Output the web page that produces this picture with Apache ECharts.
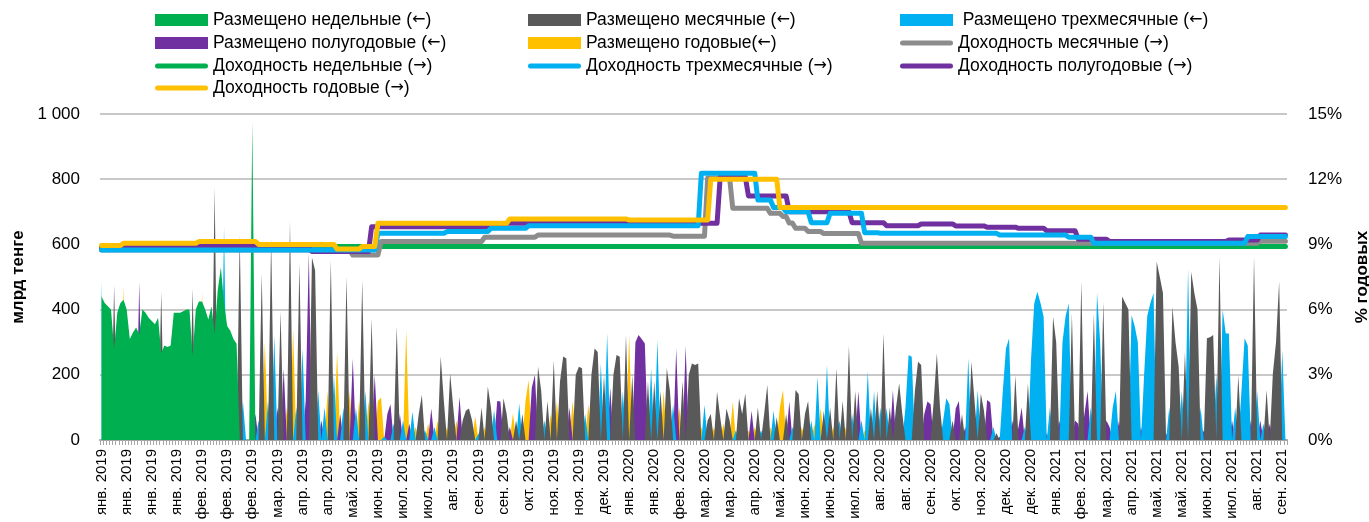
<!DOCTYPE html>
<html>
<head>
<meta charset="utf-8">
<script src="https://cdn.jsdelivr.net/npm/echarts@6/dist/echarts.min.js"></script>
<style>
html, body { margin: 0; padding: 0; background: #fff; }
#chart { width: 1369px; height: 522px; }
</style>
</head>
<body>
<div id="chart"></div>
<script>
// подписи оси X (каждый 8-й аукцион)
const tickLabels = [
    'янв. 2019', 'янв. 2019', 'янв. 2019', 'янв. 2019', 'фев. 2019', 'фев. 2019', 'фев. 2019', 'мар. 2019',
    'апр. 2019', 'апр. 2019', 'май. 2019', 'июн. 2019', 'июл. 2019', 'июл. 2019', 'авг. 2019', 'сен. 2019',
    'сен. 2019', 'окт. 2019', 'ноя. 2019', 'ноя. 2019', 'дек. 2019', 'янв. 2020', 'янв. 2020', 'фев. 2020',
    'мар. 2020', 'мар. 2020', 'апр. 2020', 'май. 2020', 'июн. 2020', 'июн. 2020', 'июл. 2020', 'авг. 2020',
    'авг. 2020', 'сен. 2020', 'окт. 2020', 'ноя. 2020', 'дек. 2020', 'дек. 2020', 'янв. 2021', 'фев. 2021',
    'мар. 2021', 'апр. 2021', 'май. 2021', 'май. 2021', 'июн. 2021', 'июл. 2021', 'авг. 2021', 'сен. 2021'
];
const labelStep = 8;

// недельные ноты, млрд тенге (аукционы 0..48)
const placedWeekly = [
    440, 420, 410, 400, 280, 390, 420, 430, 400, 310,
    330, 345, 325, 400, 390, 375, 365, 355, 375, 266,
    290, 285, 290, 390, 390, 390, 395, 400, 400, 256,
    400, 425, 425, 400, 370, 410, 327, 460, 530, 420,
    350, 335, 310, 295, 0, 0, 0, 0, 976
];

// прочие аукционы: M - месячные, Q - трехмесячные, H - полугодовые, Y - годовые, . - нет
const auctionKind = [
    'Q...M..Y..', '..H......M', '.........M', '..Y...M..Q', '....MQ...H',
    'QMYQMQHMHY', 'MYQMQHHMMQ', 'HQYMQYHQMY', 'HQYMQYMHYY', 'QHHQMHQYHQ',
    'YMMQYHQYMM', 'YMMYHMMMMY', 'QMYMMQHHMM', 'HYMQMYYHHM', 'MQMYMYMMMH',
    'YMMMQYMMMQ', 'MQHMMMQMYM', 'HHHHMQMQMY', 'MMQHYMHMMM', 'MYQMMYMMYM',
    'MYQMMMYHYM', 'QMMYQMYYMH', 'QMMYMMQYQY', 'MQMYMQMYMQ', 'MHQYQMQMQM',
    'QMHMMMQQQM', 'MMHHHMMMQQ', 'QMHHMHQMMQ', 'MMHHQMHQQQ', 'HMHHQMQQQQ',
    'QHQMMHQQQM', 'HHMHHQMQQM', 'HHQQHMMMQQ', 'QHQQQQMMMH', 'QMMMQMQMMM',
    'QHMMMQMQQQ', 'HQMQQQHMQH', 'QMHMMMQ.'
].join('');
// объём размещения на аукционе, млрд тенге
const auctionVolume = [
    490, 0, 0, 0, 475, 0, 0, 475, 0, 0,
    0, 0, 485, 0, 0, 0, 0, 0, 0, 455,
    0, 0, 0, 0, 0, 0, 0, 0, 0, 465,
    0, 0, 455, 0, 0, 0, 775, 0, 0, 654,
    0, 0, 0, 0, 629, 120, 0, 0, 0, 80,
    60, 511, 300, 120, 619, 320, 100, 394, 220, 100,
    670, 340, 100, 542, 280, 120, 575, 560, 520, 150,
    60, 100, 150, 552, 200, 270, 80, 100, 501, 150,
    250, 100, 120, 491, 150, 120, 373, 200, 120, 130,
    10, 80, 110, 50, 348, 80, 60, 337, 50, 87,
    40, 80, 138, 30, 50, 97, 40, 60, 256, 120,
    40, 204, 100, 60, 133, 60, 90, 97, 60, 72,
    20, 100, 40, 164, 100, 92, 120, 118, 128, 80,
    40, 82, 60, 112, 80, 120, 184, 160, 200, 225,
    150, 60, 120, 80, 245, 120, 180, 256, 250, 100,
    120, 200, 225, 220, 80, 110, 200, 281, 270, 235,
    200, 327, 160, 200, 261, 255, 150, 322, 322, 200,
    300, 322, 310, 296, 180, 220, 180, 307, 150, 150,
    220, 150, 110, 281, 100, 180, 289, 200, 235, 230,
    235, 40, 107, 60, 80, 40, 148, 70, 50, 97,
    60, 118, 30, 128, 80, 143, 30, 90, 40, 100,
    30, 80, 169, 40, 90, 70, 100, 153, 80, 118,
    40, 153, 140, 40, 80, 120, 60, 50, 194, 100,
    90, 230, 100, 40, 220, 60, 120, 40, 289, 80,
    150, 150, 60, 30, 210, 100, 150, 150, 100, 327,
    100, 100, 153, 100, 174, 80, 100, 261, 255, 150,
    240, 230, 80, 118, 110, 120, 266, 100, 60, 128,
    110, 60, 97, 120, 80, 40, 251, 240, 120, 153,
    143, 90, 123, 115, 40, 21, 10, 150, 281, 312,
    60, 199, 40, 100, 40, 174, 250, 419, 455, 420,
    378, 20, 100, 378, 300, 60, 300, 380, 419, 388,
    60, 50, 486, 80, 150, 100, 389, 451, 300, 424,
    60, 40, 100, 150, 60, 440, 420, 400, 383, 350,
    300, 40, 200, 380, 420, 451, 547, 500, 450, 20,
    100, 409, 300, 225, 150, 270, 527, 516, 450, 400,
    100, 30, 312, 315, 322, 200, 562, 400, 327, 327,
    60, 100, 199, 150, 312, 290, 60, 562, 150, 60,
    50, 153, 50, 204, 300, 486, 276, 0
];

// доходность, % годовых: [номер аукциона, с которого действует]
const yieldWeekly = [[0, 8.9]];
const yieldMonthly = [
    [0, 8.74], [80, 8.51], [89, 9.13], [122, 9.33], [139, 9.43], [182, 9.38], [193, 12.05], [201, 10.66], [213, 10.43],
    [217, 10.28], [219, 9.98], [221, 9.74], [225, 9.59], [230, 9.5], [242, 9.05], [369, 9.15]
];
const yieldQuarterly = [
    [0, 8.74], [88, 9.51], [110, 9.59], [124, 9.74], [136, 9.86], [191, 12.27], [209, 11.04], [214, 10.7], [218, 10.5],
    [226, 10.0], [232, 10.43], [243, 9.54], [248, 9.51], [286, 9.43], [308, 9.33], [316, 9.05], [365, 9.36]
];
const yieldHalfYear = [
    [0, 8.82], [7, 8.9], [31, 8.95], [50, 8.82], [67, 8.67], [86, 9.81], [129, 9.97], [197, 12.1], [206, 11.23],
    [219, 10.5], [239, 10.0], [250, 9.86], [261, 9.94], [272, 9.85], [282, 9.79], [292, 9.74], [301, 9.63], [311, 9.24],
    [321, 9.13], [359, 9.2], [369, 9.43]
];
const yieldYear = [
    [0, 8.95], [7, 9.05], [31, 9.13], [50, 9.0], [75, 8.79], [83, 8.9], [88, 9.97], [130, 10.17], [168, 10.12],
    [194, 12.0], [216, 10.7]
];

const auctionCount = auctionVolume.length;
const categories = [];
for (let i = 0; i < auctionCount; i++) {
    categories.push(tickLabels[Math.min(Math.floor(i / labelStep), tickLabels.length - 1)]);
}

function byKind(kind) {
    return auctionVolume.map((v, i) => (auctionKind[i] === kind ? v : 0));
}
function padded(values) {
    const out = new Array(auctionCount).fill(0);
    values.forEach((v, i) => { out[i] = v; });
    return out;
}
// последняя известная доходность
function carry(points) {
    const out = [];
    let k = 0;
    for (let i = 0; i < auctionCount; i++) {
        while (k + 1 < points.length && points[k + 1][0] <= i) k++;
        out.push(points[k][1]);
    }
    return out;
}

const C = {
    green: '#00b050',
    dark: '#595959',
    grey: '#8c8c8c',
    blue: '#00b0f0',
    purple: '#7030a0',
    yellow: '#ffc000'
};

const placed = {
    weekly: { name: 'Размещено недельные (←)', data: padded(placedWeekly), color: C.green },
    monthly: { name: 'Размещено месячные (←)', data: byKind('M'), color: C.dark },
    quarterly: { name: ' Размещено трехмесячные (←)', data: byKind('Q'), color: C.blue },
    halfYear: { name: 'Размещено полугодовые (←)', data: byKind('H'), color: C.purple },
    year: { name: 'Размещено годовые(←)', data: byKind('Y'), color: C.yellow }
};
const yields = {
    weekly: { name: 'Доходность недельные (→)', data: carry(yieldWeekly), color: C.green },
    monthly: { name: 'Доходность месячные (→)', data: carry(yieldMonthly), color: C.grey },
    quarterly: { name: 'Доходность трехмесячные (→)', data: carry(yieldQuarterly), color: C.blue },
    halfYear: { name: 'Доходность полугодовые (→)', data: carry(yieldHalfYear), color: C.purple },
    year: { name: 'Доходность годовые (→)', data: carry(yieldYear), color: C.yellow }
};

const series = [];
// площади не суммируются, рисуются друг поверх друга (годовые сзади, недельные спереди)
['year', 'halfYear', 'quarterly', 'monthly', 'weekly'].forEach(key => {
    const d = placed[key];
    series.push({
        name: d.name,
        type: 'line',
        yAxisIndex: 0,
        data: d.data,
        symbol: 'none',
        lineStyle: { width: 0 },
        itemStyle: { color: d.color },
        areaStyle: { color: d.color, opacity: 1 },
        emphasis: { disabled: true },
        z: 2
    });
});
['weekly', 'monthly', 'halfYear', 'quarterly', 'year'].forEach(key => {
    const d = yields[key];
    series.push({
        name: d.name,
        type: 'line',
        yAxisIndex: 1,
        data: d.data,
        symbol: 'none',
        lineStyle: { width: 5, color: d.color, cap: 'round', join: 'round' },
        itemStyle: { color: d.color },
        emphasis: { disabled: true },
        z: 3
    });
});

// легенда: три колонки по строкам
const legendCols = [155, 528, 900];
const legendRows = [20, 43, 66, 88];
const pill = 'path://M2.5,0 L50.5,0 A2.5,2.5 0 0 1 50.5,5 L2.5,5 A2.5,2.5 0 0 1 2.5,0 Z';
const legendSlots = [
    [placed.weekly, 0, 0, 'rect'], [placed.monthly, 1, 0, 'rect'], [placed.quarterly, 2, 0, 'rect'],
    [placed.halfYear, 0, 1, 'rect'], [placed.year, 1, 1, 'rect'], [yields.monthly, 2, 1, 'line'],
    [yields.weekly, 0, 2, 'line'], [yields.quarterly, 1, 2, 'line'], [yields.halfYear, 2, 2, 'line'],
    [yields.year, 0, 3, 'line']
];
const fontFamily = 'Liberation Sans';
const legends = legendSlots.map(([d, col, row, kind]) => ({
    left: legendCols[col],
    top: legendRows[row] - 10,
    padding: 0,
    selectedMode: false,
    itemWidth: 53,
    itemHeight: kind === 'rect' ? 12 : 5,
    // стрелки шире, как в оригинале
    formatter: n => n.replace(/([←→])/, '{arr|$1}'),
    textStyle: {
        fontFamily: fontFamily,
        fontSize: 17.5,
        color: '#000',
        lineHeight: 20,
        rich: { arr: { fontFamily: 'DejaVu Sans', fontSize: 16, color: '#000', lineHeight: 20 } }
    },
    data: [{
        name: d.name,
        icon: kind === 'rect' ? 'rect' : pill,
        itemStyle: { color: d.color, borderWidth: 0 }
    }]
}));

const chart = echarts.init(document.getElementById('chart'));
chart.setOption({
    animation: false,
    backgroundColor: '#fff',
    legend: legends,
    grid: { left: 100, right: 82, top: 114, bottom: 82, containLabel: false, outerBoundsMode: 'none' },
    xAxis: {
        type: 'category',
        data: categories,
        boundaryGap: true,
        axisLine: { lineStyle: { color: '#a6a6a6', width: 2 } },
        axisTick: { show: true, interval: 0, length: 5, lineStyle: { color: '#a6a6a6', width: 1 } },
        axisLabel: {
            interval: labelStep - 1,
            rotate: 90,
            fontFamily: fontFamily,
            fontSize: 15,
            color: '#000',
            margin: 9
        }
    },
    yAxis: [
        {
            type: 'value',
            min: 0,
            max: 1000,
            interval: 200,
            name: 'млрд тенге',
            nameLocation: 'middle',
            nameRotate: 90,
            nameGap: 72,
            nameTextStyle: { fontFamily: fontFamily, fontSize: 17, fontWeight: 'bold', color: '#000' },
            axisLine: { show: false },
            axisTick: { show: false },
            axisLabel: {
                fontFamily: fontFamily,
                fontSize: 17,
                color: '#000',
                margin: 20,
                formatter: v => String(v).replace(/\B(?=(\d{3})+(?!\d))/g, ' ')
            },
            splitLine: { lineStyle: { color: '#c8c8c8', width: 2 } }
        },
        {
            type: 'value',
            min: 0,
            max: 15,
            interval: 3,
            position: 'right',
            name: '% годовых',
            nameLocation: 'middle',
            nameRotate: 90,
            nameGap: 67,
            nameTextStyle: { fontFamily: fontFamily, fontSize: 17, fontWeight: 'bold', color: '#000' },
            axisLine: { show: false },
            axisTick: { show: false },
            axisLabel: { fontFamily: fontFamily, fontSize: 17, color: '#000', margin: 21, formatter: '{value}%' },
            splitLine: { show: false }
        }
    ],
    series: series
});
</script>
</body>
</html>
